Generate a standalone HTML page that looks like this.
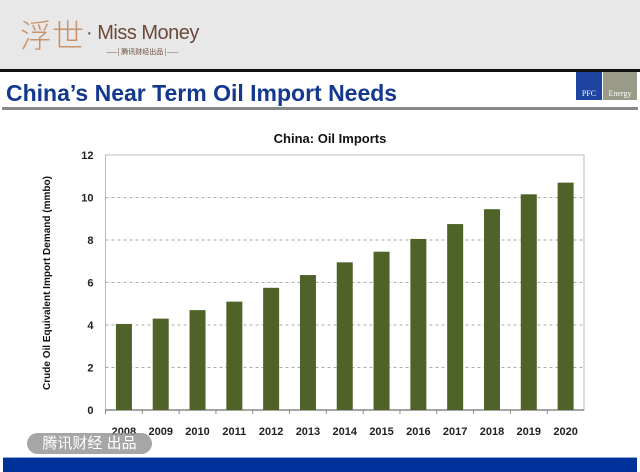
<!DOCTYPE html>
<html><head><meta charset="utf-8"><style>
body{margin:0;width:640px;height:471px;overflow:hidden;background:#fff;font-family:"Liberation Sans","Noto Sans CJK SC",sans-serif;position:relative}
.abs{position:absolute}
</style></head><body>
<div class="abs" style="left:0;top:0;width:640px;height:69px;background:#e8e8e8"></div>
<div class="abs" style="left:20px;top:14px;font-size:32px;color:#c8926a;font-family:'Noto Sans CJK SC',sans-serif;font-weight:300;line-height:40px">浮世</div>
<div class="abs" style="left:86px;top:22px;font-size:20px;color:#6b4a3a;letter-spacing:-0.5px">· Miss Money</div>
<div class="abs" style="left:106px;top:47px;font-size:7px;color:#6b4a3a;font-family:'Noto Sans CJK SC',sans-serif">——| 腾讯财经出品 |——</div>
<div class="abs" style="left:0;top:69px;width:640px;height:3px;background:#111"></div>
<div class="abs" style="left:6px;top:80px;font-size:23px;font-weight:bold;color:#15388f">China’s Near Term Oil Import Needs</div>
<div class="abs" style="left:576px;top:72px;width:26px;height:28px;background:#1d44a0;color:#fff;font-size:8px;font-family:'Liberation Serif',serif;line-height:44px;text-align:center">PFC</div>
<div class="abs" style="left:603px;top:72px;width:34px;height:28px;background:#9a9a88;color:#fff;font-size:8px;font-family:'Liberation Serif',serif;line-height:44px;text-align:center">Energy</div>
<div class="abs" style="left:2px;top:107px;width:636px;height:3px;background:#888"></div>
<svg class="abs" style="left:0;top:0" width="640" height="471">
<g id="g"></g>
</svg>
<div class="abs" style="left:27px;top:433px;width:125px;height:21px;border-radius:11px;background:rgba(150,150,150,0.85);color:#fff;font-size:15px;line-height:21px;text-align:center">腾讯财经 出品</div>
<div class="abs" style="left:3px;top:457px;width:634px;height:14px;background:#00309a;border-top:1px solid #8aa8d8"></div>
<script>
const years=["2008","2009","2010","2011","2012","2013","2014","2015","2016","2017","2018","2019","2020"];
const values=[4.05,4.3,4.7,5.1,5.75,6.35,6.95,7.45,8.05,8.75,9.45,10.15,10.7];
const yTicks=[0,2,4,6,8,10,12];
const NS="http://www.w3.org/2000/svg",g=document.getElementById('g');
const L=105.5,R=584,T=155,B=410,yMax=12;
const y=v=>B-(v/yMax)*(B-T);
const step=(R-L)/years.length;
const x=i=>L+step*(i+0.5);
function el(t,a){const e=document.createElementNS(NS,t);for(const k in a)e.setAttribute(k,a[k]);g.appendChild(e);return e;}
let e=el('rect',{x:L,y:T,width:R-L,height:B-T,fill:'#fff',stroke:'#bbb'});

yTicks.forEach(t=>{
 if(t>0&&t<yMax){let l=el('line',{x1:L,x2:R,y1:y(t),y2:y(t),stroke:'#aaa','stroke-dasharray':'3,3'});
 }
 let tx=el('text',{x:L-12,y:y(t)+4,'text-anchor':'end','font-size':'11','font-weight':'bold',fill:'#222'});tx.textContent=t;
 
});
let ax=el('line',{x1:L,x2:R,y1:B,y2:B,stroke:'#888','stroke-width':1.5});

values.forEach((v,i)=>{
 let r=el('rect',{x:x(i)-8,y:y(v),width:16,height:B-y(v),fill:'#4f6228'});
 
 let tk=el('line',{x1:L+step*i,x2:L+step*i,y1:B,y2:B+4,stroke:'#888'});
 
 let t=el('text',{x:x(i),y:435,'text-anchor':'middle','font-size':'11','font-weight':'bold',fill:'#222'});t.textContent=years[i];
 
});
let ct=el('text',{x:330,y:143,'text-anchor':'middle','font-size':'13','font-weight':'bold',fill:'#111'});ct.textContent='China: Oil Imports';

let yt=el('text',{x:0,y:0,'text-anchor':'middle','font-size':'10','font-weight':'bold',fill:'#111',transform:'translate(50,283) rotate(-90)'});yt.textContent='Crude Oil Equivalent Import Demand (mmbo)';

</script>
</body></html>
